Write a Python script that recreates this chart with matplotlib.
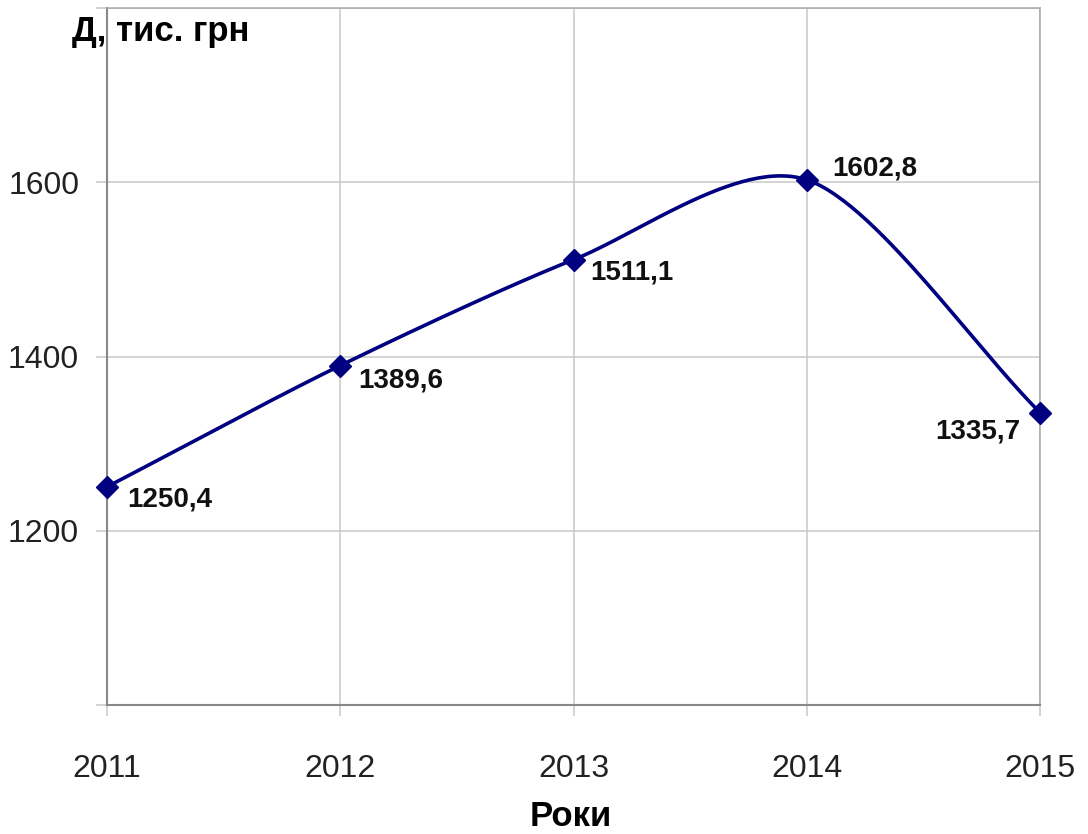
import numpy as np
import matplotlib
matplotlib.use("Agg")
import matplotlib.pyplot as plt

years = [2011, 2012, 2013, 2014, 2015]
values = [1250.4, 1389.6, 1511.1, 1602.8, 1335.7]
labels = ["1250,4", "1389,6", "1511,1", "1602,8", "1335,7"]
y_ticks = [1200, 1400, 1600]
x_label = "Роки"
y_label = "Д, тис. грн"

plt.rcParams['font.family'] = ['Liberation Sans', 'DejaVu Sans']


def smooth(x, y, n=60, k=1 / 7):
    x = np.asarray(x, float)
    y = np.asarray(y, float)
    px = np.concatenate([[2 * x[0] - x[1]], x, [2 * x[-1] - x[-2]]])
    py = np.concatenate([[2 * y[0] - y[1]], y, [2 * y[-1] - y[-2]]])
    xs, ys = [], []
    for i in range(1, len(px) - 2):
        t = np.linspace(0, 1, n)
        p0, p1, p2, p3 = (np.array([px[j], py[j]]) for j in range(i - 1, i + 3))
        c1 = p1 + (p2 - p0) * k
        c2 = p2 - (p3 - p1) * k
        b = ((1 - t) ** 3)[:, None] * p1 + (3 * (1 - t) ** 2 * t)[:, None] * c1 \
            + (3 * (1 - t) * t ** 2)[:, None] * c2 + (t ** 3)[:, None] * p2
        xs.append(b[:, 0])
        ys.append(b[:, 1])
    return np.concatenate(xs), np.concatenate(ys)


fig = plt.figure(figsize=(10.88, 8.34), dpi=100)
ax = fig.add_axes([107 / 1088, 1 - 705 / 834, (1040 - 107) / 1088, (705 - 8) / 834])

sx, sy = smooth(years, values)
ax.plot(sx, sy, color='#000080', lw=2.6, zorder=3, solid_capstyle='round', clip_on=False)
ax.plot(years, values, 'D', color='#000080', ms=11, zorder=4, clip_on=False)

offsets = [(20, -13), (18, -15), (17, -13), (26, 11), (-20, -19)]
aligns = ['left', 'left', 'left', 'left', 'right']
for xv, yv, lab, off, ha in zip(years, values, labels, offsets, aligns):
    ax.annotate(lab, (xv, yv), xytext=off, textcoords='offset pixels',
                ha=ha, va='center', fontsize=20, fontweight='bold', color='#111111')

ax.set_xlim(2011, 2015)
ax.set_ylim(1000, 1800)
ax.set_xticks(years)
ax.set_xticklabels([str(y) for y in years])
ax.set_yticks(y_ticks + [1000, 1800])
ax.set_yticklabels([str(v) for v in y_ticks] + ['', ''])
ax.grid(True, color='#c8c8c8', lw=1.1)
ax.set_axisbelow(True)
for s in ['top', 'right']:
    ax.spines[s].set_color('#a8a8a8')
    ax.spines[s].set_linewidth(1.1)
for s in ['left', 'bottom']:
    ax.spines[s].set_color('#888888')
    ax.spines[s].set_linewidth(1.5)
ax.tick_params(axis='both', color='#c8c8c8', length=8, width=1.1, labelsize=23, labelcolor='#222222')
ax.tick_params(axis='y', pad=12)
ax.tick_params(axis='x', pad=27)

fig.text(161 / 1088, 1 - 32 / 834, y_label, ha='center', va='center', fontsize=25, fontweight='bold')
fig.text(571 / 1088, 1 - 817 / 834, x_label, ha='center', va='center', fontsize=25, fontweight='bold')

fig.savefig('out.png', dpi=100, facecolor='white')
